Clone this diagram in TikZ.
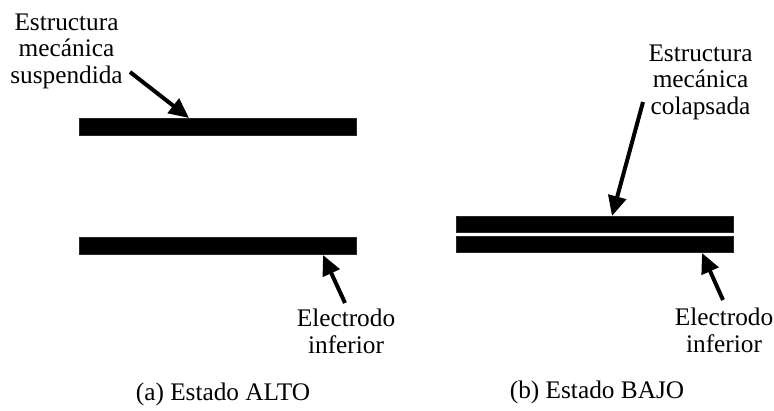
\documentclass[tikz,border=0pt]{standalone}
\usepackage{fontspec}
\setmainfont{Liberation Serif}
\usepackage{tikz}
\usetikzlibrary{arrows.meta}

\begin{document}
\begin{tikzpicture}[
font=\fontsize{25.3}{26.3}\selectfont,
x=1pt, y=-1pt,
bar/.style={draw=black!85,fill=black,inner sep=0pt,minimum width=277pt,minimum height=17pt},
tag/.style={align=center,anchor=base,inner sep=0pt},
pointer/.style={line width=4pt,-{Triangle[length=20pt,width=18pt]}}]
    \useasboundingbox (0,0) rectangle (774,410);

    % Draw plates
    \node[bar] (barUpA) at (217.5,126.5) {};
    \node[bar] (barLowA) at (217.5,245.5) {};
    \node[bar,minimum height=16pt] (barUpB) at (595,224) {};
    \node[bar,minimum height=16pt] (barLowB) at (595,244) {};

    % Draw labels (base = last line)
    \node[tag] (susp) at (66.5,83) {Estructura\\mecánica\\suspendida};
    \node[tag] (colap) at (700.5,114) {Estructura\\mecánica\\colapsada};
    \node[tag] (elecA) at (346,353) {Electrodo\\inferior};
    \node[tag] (elecB) at (724,352) {Electrodo\\inferior};
    \node[tag] (capA) at (223,400) {(a) Estado ALTO};
    \node[tag] (capB) at (597,398) {(b) Estado BAJO};

    \draw
  	(130,72) coordinate (fromSusp)
  	(189,118) coordinate (toSusp)
  	(345,303) coordinate (fromElecA)
  	(323,255) coordinate (toElecA)
  	(643,102) coordinate (fromColap)
  	(612,216) coordinate (toColap)
  	(723,300) coordinate (fromElecB)
  	(702,253) coordinate (toElecB);

    \draw[pointer] (fromSusp) -- (toSusp);
    \draw[pointer] (fromElecA) -- (toElecA);
    \draw[pointer] (fromColap) -- (toColap);
    \draw[pointer] (fromElecB) -- (toElecB);
\end{tikzpicture}
\end{document}
